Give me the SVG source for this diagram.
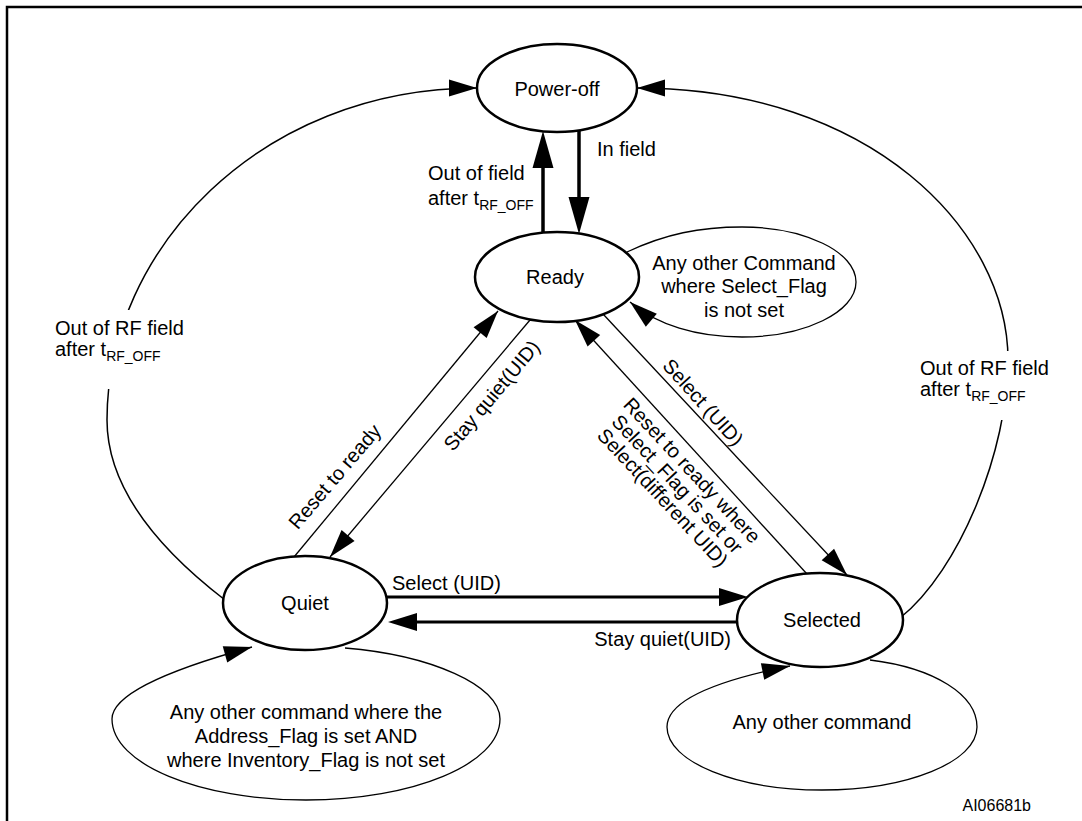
<svg xmlns="http://www.w3.org/2000/svg" width="1082" height="821" viewBox="0 0 1082 821">
<defs>
<style>
text{font-family:"Liberation Sans",Arial,sans-serif;font-size:20px;fill:#000}
.sub{font-size:14px}
.st{fill:#fff;stroke:#000;stroke-width:2.5}
.loop{fill:none;stroke:#000;stroke-width:1.3}
.arc{fill:none;stroke:#000;stroke-width:1.5}
.thin{fill:none;stroke:#000;stroke-width:1.3}
.thick{fill:none;stroke:#000;stroke-width:3}
.vthick{fill:none;stroke:#000;stroke-width:3.5}
</style>
<marker id="a" markerUnits="userSpaceOnUse" markerWidth="30" markerHeight="20" refX="28" refY="8.5" orient="auto" overflow="visible"><path d="M0,0 L28,8.5 L0,17 z" fill="#000"/></marker>
<marker id="ah" markerUnits="userSpaceOnUse" markerWidth="30" markerHeight="20" refX="21" refY="9" orient="auto" overflow="visible"><path d="M0,0 L29,9 L0,18 z" fill="#000"/></marker>
<marker id="av" markerUnits="userSpaceOnUse" markerWidth="40" markerHeight="24" refX="27" refY="10.5" orient="auto" overflow="visible"><path d="M0,0 L37,10.5 L0,21 z" fill="#000"/></marker>
</defs>
<rect width="1082" height="821" fill="#fff"/>
<path d="M7 821 V7 H1082" fill="none" stroke="#000" stroke-width="2.5"/>

<g id="connectors">
<path class="arc" d="M225 600 C160 550 107 490 107 420 C107 250 260 88 477 88" marker-end="url(#a)"/>
<path class="arc" d="M900 618 C960 570 1008 450 1008 360 C1008 230 870 88 637 88" marker-end="url(#a)"/>
<path class="vthick" d="M543 233 V141" marker-end="url(#av)"/>
<path class="vthick" d="M579 130 V224" marker-end="url(#av)"/>
<path class="loop" d="M627 252 C665 234 700 227 742 227 C805 227 856 252 856 282 C856 312 805 337 742 337 C697 337 657 325 630 302" marker-end="url(#a)"/>
<path class="thin" d="M294 557 L498 311" marker-end="url(#a)"/>
<path class="thin" d="M530 320 L330 557" marker-end="url(#a)"/>
<path class="thin" d="M807 574 L575 320" marker-end="url(#a)"/>
<path class="thin" d="M603 314 L847 575" marker-end="url(#a)"/>
<path class="thick" d="M387 597 H740" marker-end="url(#ah)"/>
<path class="thick" d="M737 622 H396" marker-end="url(#ah)"/>
<path class="loop" d="M345 648 C430 655 500 685 500 719 C500 764 413 800 306 800 C199 800 112 764 112 719 C112 690 190 664 252 647" marker-end="url(#a)"/>
<path class="loop" d="M870 660 C935 668 977 695 977 727 C977 762 907 790 822 790 C737 790 667 762 667 727 C667 700 720 680 790 666" marker-end="url(#a)"/>
</g>

<g id="power-off">
<ellipse class="st" cx="557" cy="88" rx="80" ry="44"/>
<text x="557" y="96" text-anchor="middle">Power-off</text>
</g>
<g id="ready">
<ellipse class="st" cx="557" cy="277" rx="82" ry="45"/>
<text x="555" y="284" text-anchor="middle">Ready</text>
</g>
<g id="quiet">
<ellipse class="st" cx="305" cy="603" rx="82" ry="47"/>
<text x="305" y="610" text-anchor="middle">Quiet</text>
</g>
<g id="selected">
<ellipse class="st" cx="820" cy="620" rx="83" ry="47"/>
<text x="822" y="627" text-anchor="middle">Selected</text>
</g>

<g id="ready-loop-label">
<text x="744" y="270" text-anchor="middle">Any other Command</text>
<text x="744" y="293" text-anchor="middle">where Select_Flag</text>
<text x="744" y="317" text-anchor="middle">is not set</text>
</g>
<g id="quiet-loop-label">
<text x="306" y="719" text-anchor="middle">Any other command where the</text>
<text x="306" y="743" text-anchor="middle">Address_Flag is set AND</text>
<text x="306" y="767" text-anchor="middle">where Inventory_Flag is not set</text>
</g>
<g id="selected-loop-label">
<text x="822" y="729" text-anchor="middle">Any other command</text>
</g>

<g id="labels">
<text x="597" y="156">In field</text>
<text x="428" y="180">Out of field</text>
<text x="428" y="205">after t<tspan class="sub" dy="5">RF_OFF</tspan></text>
<rect x="50" y="310" width="140" height="79" fill="#fff"/>
<text x="55" y="335">Out of RF field</text>
<text x="55" y="356">after t<tspan class="sub" dy="5">RF_OFF</tspan></text>
<rect x="915" y="351" width="140" height="69" fill="#fff"/>
<text x="920" y="375">Out of RF field</text>
<text x="920" y="396">after t<tspan class="sub" dy="5">RF_OFF</tspan></text>
<text transform="translate(340 481) rotate(-49.5)" text-anchor="middle">Reset to ready</text>
<text transform="translate(497 400) rotate(-50)" text-anchor="middle">Stay quiet(UID)</text>
<text transform="translate(698 407) rotate(48)" text-anchor="middle">Select (UID)</text>
<g transform="translate(687 475) rotate(47)">
<text x="0" y="0" text-anchor="middle">Reset to ready where</text>
<text x="0" y="20" text-anchor="middle">Select_Flag is set or</text>
<text x="0" y="40" text-anchor="middle">Select(different UID)</text>
</g>
<text x="392" y="590">Select (UID)</text>
<text x="731" y="646" text-anchor="end">Stay quiet(UID)</text>
<text x="1031" y="811" text-anchor="end" style="font-size:16px">AI06681b</text>
</g>
</svg>
